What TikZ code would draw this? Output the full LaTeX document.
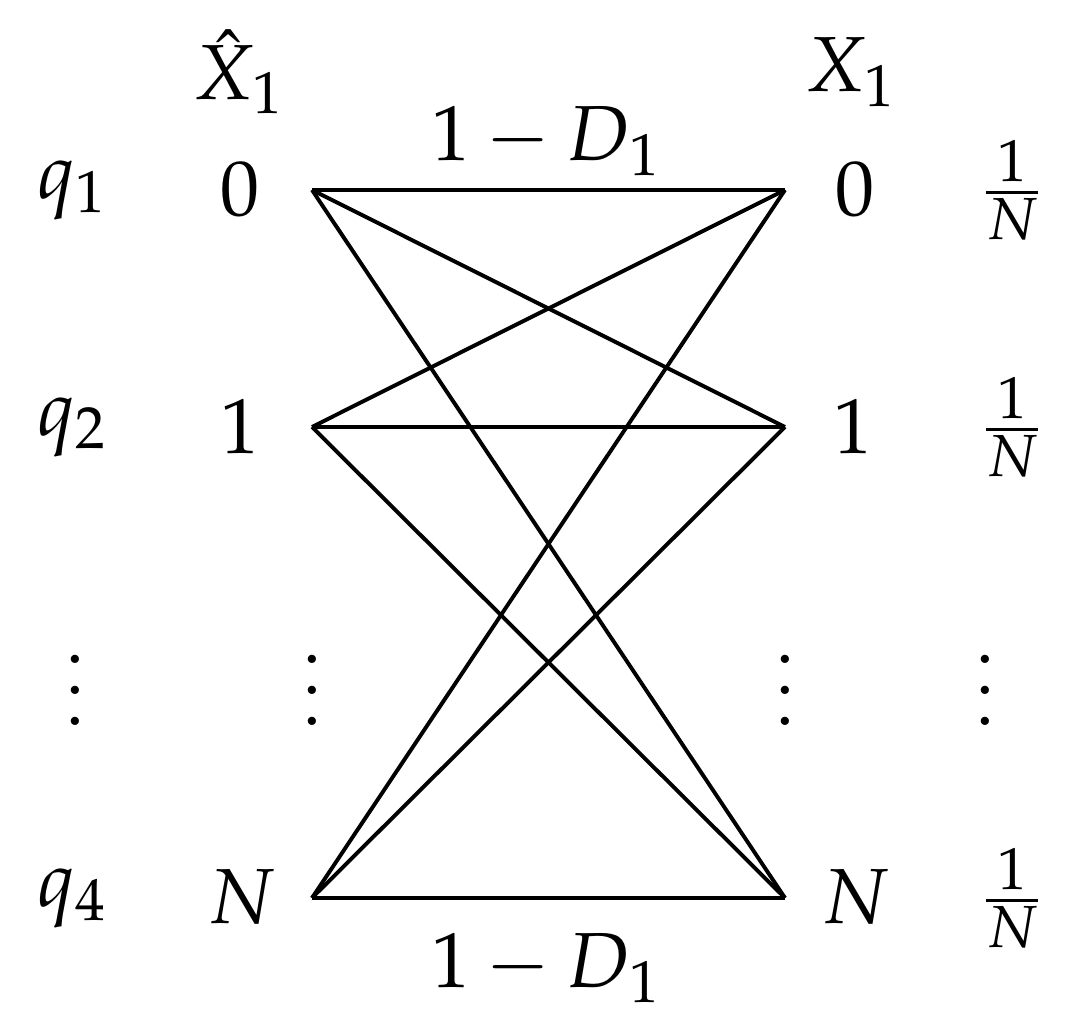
\documentclass[tikz,border=0pt]{standalone}
\usepackage{mathpazo}
\begin{document}
\begin{tikzpicture}[x=0.128pt,y=-0.128pt,
  lbl/.style={inner sep=0pt,anchor=center},
  edge/.style={line width=0.5pt}]
\useasboundingbox (0,0) rectangle (1073,1034);
% headers
\node[lbl] (hx) at (240,72) {$\hat{X}_1$};
\node[lbl] (x) at (852,72) {$X_1$};
% left probabilities
\node[lbl] (q1) at (73,190) {$q_1$};
\node[lbl] (q2) at (73,427) {$q_2$};
\node[lbl] (qd) at (75,667) {$\vdots$};
\node[lbl] (q4) at (73,898) {$q_4$};
% left symbols
\node[lbl] (l0) at (240,189) {$0$};
\node[lbl] (l1) at (240,427) {$1$};
\node[lbl] (ld) at (312,667) {$\vdots$};
\node[lbl] (lN) at (242,897) {$N$};
% right symbols
\node[lbl] (r0) at (855,189) {$0$};
\node[lbl] (r1) at (853,427) {$1$};
\node[lbl] (rd) at (785,667) {$\vdots$};
\node[lbl] (rN) at (856,897) {$N$};
% right probabilities
\node[lbl] (p0) at (1012,190) {$\frac{1}{N}$};
\node[lbl] (p1) at (1012,427) {$\frac{1}{N}$};
\node[lbl] (pd) at (985,667) {$\vdots$};
\node[lbl] (pN) at (1012,898) {$\frac{1}{N}$};
% edge endpoints
\coordinate (L0) at (312,190);
\coordinate (L1) at (312,427);
\coordinate (LN) at (312,898);
\coordinate (R0) at (785,190);
\coordinate (R1) at (785,427);
\coordinate (RN) at (785,898);
\draw[edge] (L0) -- (R0);
\draw[edge] (L0) -- (R1);
\draw[edge] (L0) -- (RN);
\draw[edge] (L1) -- (R0);
\draw[edge] (L1) -- (R1);
\draw[edge] (L1) -- (RN);
\draw[edge] (LN) -- (R0);
\draw[edge] (LN) -- (R1);
\draw[edge] (LN) -- (RN);
\node[lbl] (dtop) at (547,141) {$1-D_1$};
\node[lbl] (dbot) at (547,968) {$1-D_1$};
\end{tikzpicture}
\end{document}
